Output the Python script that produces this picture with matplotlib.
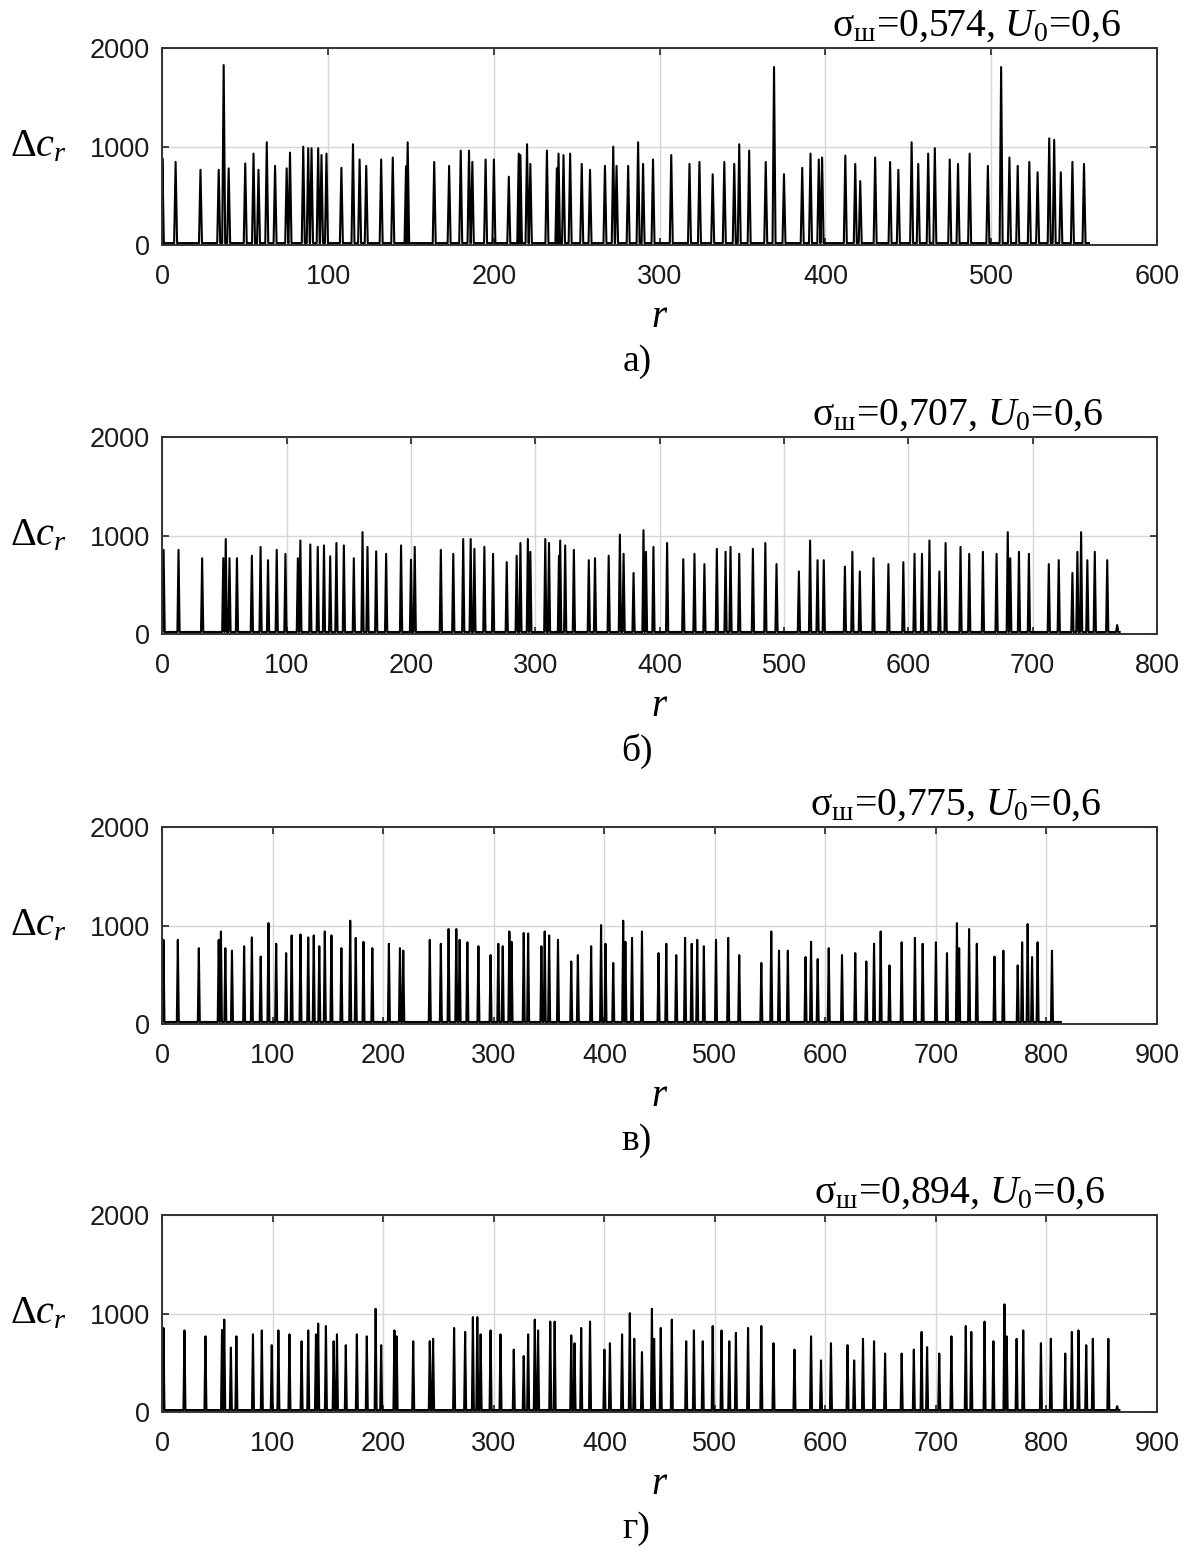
import matplotlib
matplotlib.use("Agg")
import matplotlib.pyplot as plt
import numpy as np

plt.rcParams['font.family'] = ['Liberation Sans', 'DejaVu Sans']
plt.rcParams['mathtext.fontset'] = 'custom'
plt.rcParams['mathtext.rm'] = 'Liberation Serif'
plt.rcParams['mathtext.it'] = 'Liberation Serif:italic'
plt.rcParams['mathtext.bf'] = 'Liberation Serif:bold'

# --- пики приращений dc_r: номер r и высота выброса ---
r_a = [0, 8, 23, 34, 37, 40, 50, 55, 58, 63, 68, 75, 77, 85, 88, 90, 94, 96, 99,
       108, 115, 119, 123, 132, 139, 147, 148, 164, 173, 180, 185, 187, 195, 200,
       209, 215, 216, 220, 222, 232, 238, 239, 242, 246, 253, 258, 267, 272, 274,
       281, 287, 290, 296, 307, 318, 324, 332, 339, 345, 348, 354, 364, 369, 375,
       386, 391, 396, 398, 412, 418, 421, 430, 439, 444, 452, 456, 462, 466, 475,
       480, 487, 498, 506, 511, 516, 523, 528, 535, 538, 542, 549, 556]
dc_a = [880, 845, 765, 765, 1830, 780, 830, 930, 765, 1045, 805, 780, 940, 1000, 985, 985, 985, 915, 930,
        785, 1025, 870, 805, 870, 890, 800, 1045, 845, 805, 960, 960, 845, 870, 870,
        695, 930, 915, 1025, 825, 960, 780, 930, 915, 930, 825, 765, 805, 1000, 805,
        805, 1045, 825, 870, 915, 825, 845, 720, 845, 825, 1025, 960, 845, 1810, 720,
        785, 930, 870, 890, 910, 825, 650, 890, 845, 765, 1045, 825, 930, 985, 870,
        825, 930, 805, 1810, 890, 805, 845, 740, 1085, 1070, 740, 845, 825]
end_a = 559

r_b = [1, 13, 32, 49, 51, 54, 60, 72, 79, 85, 92, 99, 109, 111, 119, 125, 130, 135, 140,
       146, 154, 161, 165, 172, 180, 192, 200, 203, 224, 234, 242, 248, 251, 259, 266,
       277, 285, 288, 294, 296, 308, 311, 319, 320, 324, 331, 343, 348, 359, 368, 371,
       379, 387, 389, 395, 406, 419, 428, 436, 446, 453, 457, 464, 475, 485, 494, 512,
       521, 527, 532, 549, 555, 561, 572, 584, 596, 605, 611, 617, 625, 630, 642, 649,
       660, 671, 680, 682, 689, 697, 713, 721, 732, 736, 739, 744, 750, 760, 768]
dc_b = [855, 855, 770, 770, 965, 770, 770, 795, 885, 750, 855, 815, 770, 950, 910, 885, 900, 790, 925,
        900, 770, 1035, 885, 840, 815, 900, 755, 885, 855, 815, 965, 965, 865, 885, 815,
        730, 795, 925, 965, 835, 965, 925, 795, 950, 900, 855, 750, 770, 795, 1010, 815,
        620, 1055, 835, 885, 925, 760, 815, 710, 865, 835, 885, 815, 865, 925, 710, 635,
        950, 750, 750, 685, 835, 635, 770, 710, 730, 815, 815, 950, 635, 925, 885, 815,
        835, 815, 1035, 770, 835, 815, 710, 750, 620, 835, 1035, 750, 835, 750, 90]
end_b = 770

r_c = [1, 14, 33, 51, 53, 57, 63, 74, 81, 89, 96, 103, 112, 117, 125, 132, 137, 142, 147,
       153, 162, 170, 175, 182, 190, 205, 215, 218, 242, 252, 259, 266, 269, 276, 286,
       297, 304, 308, 314, 316, 327, 331, 343, 346, 350, 358, 370, 376, 388, 397, 401,
       408, 417, 419, 425, 434, 449, 456, 465, 473, 479, 484, 490, 501, 512, 522, 542,
       551, 558, 566, 582, 587, 593, 603, 615, 627, 637, 644, 650, 658, 669, 681, 688,
       700, 710, 719, 721, 730, 737, 753, 761, 774, 778, 783, 787, 792, 805]
dc_c = [855, 855, 770, 855, 940, 770, 745, 790, 880, 685, 1025, 815, 720, 900, 910, 880, 900, 790, 940,
        900, 770, 1050, 875, 835, 770, 815, 770, 745, 855, 815, 965, 965, 855, 830, 790,
        700, 815, 790, 940, 835, 925, 920, 790, 940, 900, 855, 635, 700, 790, 1005, 815,
        620, 1050, 835, 875, 940, 720, 815, 700, 875, 815, 855, 790, 855, 875, 700, 620,
        940, 745, 745, 680, 835, 660, 770, 700, 720, 635, 815, 940, 595, 830, 875, 815,
        830, 720, 1025, 770, 965, 815, 685, 745, 595, 830, 1015, 680, 830, 745]
end_c = 813

r_d = [1, 20, 39, 54, 56, 62, 67, 82, 90, 99, 105, 115, 126, 132, 139, 141, 148, 155, 158,
       166, 176, 185, 193, 198, 210, 212, 227, 242, 245, 264, 274, 281, 285, 288, 297,
       306, 318, 327, 331, 337, 340, 351, 355, 370, 373, 379, 387, 400, 405, 416, 423,
       427, 434, 443, 445, 451, 461, 474, 481, 489, 498, 506, 513, 519, 530, 542, 553,
       572, 587, 596, 605, 620, 626, 634, 644, 654, 669, 680, 687, 692, 703, 714, 727,
       732, 744, 752, 762, 764, 773, 779, 795, 804, 817, 823, 829, 836, 842, 856, 864]
dc_d = [855, 830, 770, 835, 940, 655, 770, 790, 830, 680, 830, 790, 720, 830, 790, 900, 875, 720, 790,
        680, 790, 770, 1050, 680, 830, 770, 720, 720, 745, 855, 815, 965, 965, 790, 830,
        790, 635, 570, 790, 940, 830, 920, 920, 780, 700, 855, 920, 635, 700, 790, 1005,
        745, 610, 1050, 745, 855, 940, 720, 830, 720, 875, 830, 720, 805, 855, 875, 700,
        635, 770, 525, 700, 680, 525, 745, 720, 595, 595, 635, 815, 660, 595, 770, 875,
        815, 920, 720, 1095, 770, 745, 830, 700, 745, 595, 815, 830, 680, 745, 745, 60]
end_d = 866

sig = ['0,574', '0,707', '0,775', '0,894']
letters = ['а)', 'б)', 'в)', 'г)']
xmax = [600, 800, 900, 900]
xticks = [np.arange(0, 601, 100), np.arange(0, 801, 100), np.arange(0, 901, 100), np.arange(0, 901, 100)]
title_x = [0.9645, 0.9465, 0.944, 0.948]

panels = [(r_a, dc_a, end_a), (r_b, dc_b, end_b), (r_c, dc_c, end_c), (r_d, dc_d, end_d)]


def spike_trace(r, dc, r_end, floor=20, w=0.9):
    xs = [0]
    ys = [floor]
    for ri, hi in zip(r, dc):
        xs += [max(ri - w, 0), ri, ri + w]
        ys += [floor, hi, floor]
    xs.append(r_end)
    ys.append(floor)
    return xs, ys


fig = plt.figure(figsize=(11.92, 15.5), dpi=100)
bottoms = [0.8419, 0.5910, 0.3394, 0.0890]

serif = ['Liberation Serif', 'DejaVu Serif']
for i, (r, dc, r_end) in enumerate(panels):
    ax = fig.add_axes([0.1362, bottoms[i], 0.8344, 0.1269])
    xs, ys = spike_trace(r, dc, r_end)
    ax.plot(xs, ys, color='black', lw=1.5)
    ax.set_xlim(0, xmax[i])
    ax.set_ylim(0, 2000)
    ax.set_xticks(xticks[i])
    ax.set_yticks([0, 1000, 2000])
    ax.grid(True, color='#d6d6d6', lw=1)
    ax.set_axisbelow(True)
    for s in ax.spines.values():
        s.set_color('#333333')
        s.set_linewidth(1.4)
    ax.tick_params(direction='in', top=True, right=True, length=5, width=1.3,
                   colors='#333333', labelsize=19.5, labelcolor='#1a1a1a')
    ax.tick_params(axis='x', pad=14)
    ax.tick_params(axis='y', pad=9)

    ax.text(title_x[i], 1.066, r'$\mathrm{\sigma}_{\mathrm{ш}}$=' + sig[i] + r', $U_0$=0,6',
            transform=ax.transAxes, ha='right', va='baseline', fontsize=28.5, family=serif)
    ax.text(-0.153, 0.5, r'$\Delta c_r$', transform=ax.transAxes, ha='left', va='center',
            fontsize=29, family=serif)
    ax.text(0.5, -0.37, r'$r$', transform=ax.transAxes, ha='center', va='center',
            fontsize=28, family=serif)
    ax.text(0.477, -0.595, letters[i], transform=ax.transAxes, ha='center', va='center',
            fontsize=27, family=serif)

fig.savefig('out.png', dpi=100)
